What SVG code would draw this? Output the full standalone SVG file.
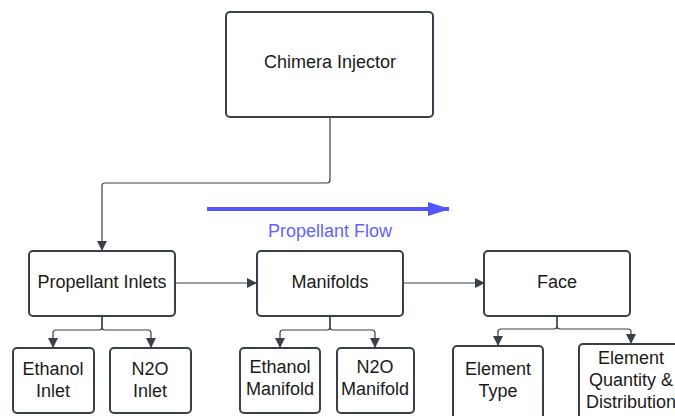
<svg xmlns="http://www.w3.org/2000/svg" width="675" height="416" viewBox="0 0 675 416">
<defs>
<marker id="ah" markerWidth="10" markerHeight="10" refX="9" refY="5" orient="auto" markerUnits="userSpaceOnUse"><path d="M0,0 L10,5 L0,10 Z" fill="#3a4048"/></marker>
<marker id="bh" markerWidth="22" markerHeight="14" refX="21" refY="7" orient="auto" markerUnits="userSpaceOnUse"><path d="M0,0 L22,7 L0,14 Z" fill="#5555ff"/></marker>
<style>
.box{fill:#fff;stroke:#3a4048;stroke-width:2}
.t{font-family:"Liberation Sans",Arial,sans-serif;font-size:18px;fill:#1a1a1a;text-anchor:middle}
.c{fill:none;stroke:#3a4048;stroke-width:1.2}
</style>
</defs>
<rect width="675" height="416" fill="#fff"/>
<g id="connectors">
<path class="c" d="M330,117 V180 Q330,183 327,183 H105 Q102,183 102,186 V250" marker-end="url(#ah)"/>
<path class="c" d="M175,283 H256" marker-end="url(#ah)"/>
<path class="c" d="M403,283 H484" marker-end="url(#ah)"/>
<path class="c" d="M102,316 V327 Q102,330 99,330 H56 Q53,330 53,333 V347" marker-end="url(#ah)"/>
<path class="c" d="M102,316 V327 Q102,330 105,330 H148 Q151,330 151,333 V347" marker-end="url(#ah)"/>
<path class="c" d="M330,316 V327 Q330,330 327,330 H283 Q280,330 280,333 V347" marker-end="url(#ah)"/>
<path class="c" d="M330,316 V327 Q330,330 333,330 H372 Q375,330 375,333 V347" marker-end="url(#ah)"/>
<path class="c" d="M557,316 V326 Q557,329 554,329 H501 Q498,329 498,332 V345" marker-end="url(#ah)"/>
<path class="c" d="M557,316 V326 Q557,329 560,329 H628 Q631,329 631,332 V343" marker-end="url(#ah)"/>
</g>
<g id="flow">
<path d="M207,209 H449" stroke="#5555ff" stroke-width="4" fill="none" marker-end="url(#bh)"/>
<text class="t" x="330" y="237" style="fill:#6262ff">Propellant Flow</text>
</g>
<g id="chimera"><rect class="box" x="226" y="12" width="207" height="105" rx="4"/><text class="t" x="330" y="68">Chimera Injector</text></g>
<g id="inlets"><rect class="box" x="29" y="251" width="146" height="65" rx="4"/><text class="t" x="102" y="288">Propellant Inlets</text></g>
<g id="manifolds"><rect class="box" x="257" y="251" width="146" height="65" rx="4"/><text class="t" x="330" y="288">Manifolds</text></g>
<g id="face"><rect class="box" x="484" y="251" width="146" height="65" rx="4"/><text class="t" x="557" y="288">Face</text></g>
<g id="ethanol-inlet"><rect class="box" x="13" y="348" width="81" height="65" rx="4"/><text class="t" x="53" y="375">Ethanol</text><text class="t" x="53" y="397">Inlet</text></g>
<g id="n2o-inlet"><rect class="box" x="110" y="348" width="81" height="65" rx="4"/><text class="t" x="150" y="375">N2O</text><text class="t" x="150" y="397">Inlet</text></g>
<g id="ethanol-manifold"><rect class="box" x="240" y="348" width="80" height="65" rx="4"/><text class="t" x="280" y="373">Ethanol</text><text class="t" x="280" y="395">Manifold</text></g>
<g id="n2o-manifold"><rect class="box" x="337" y="348" width="77" height="65" rx="4"/><text class="t" x="375" y="373">N2O</text><text class="t" x="375" y="395">Manifold</text></g>
<g id="element-type"><rect class="box" x="453" y="346" width="90" height="75" rx="4"/><text class="t" x="498" y="375">Element</text><text class="t" x="498" y="397">Type</text></g>
<g id="element-quantity"><rect class="box" x="579" y="344" width="106" height="80" rx="4"/><text class="t" x="631" y="364">Element</text><text class="t" x="631" y="386">Quantity &amp;</text><text class="t" x="631" y="408">Distribution</text></g>
</svg>
